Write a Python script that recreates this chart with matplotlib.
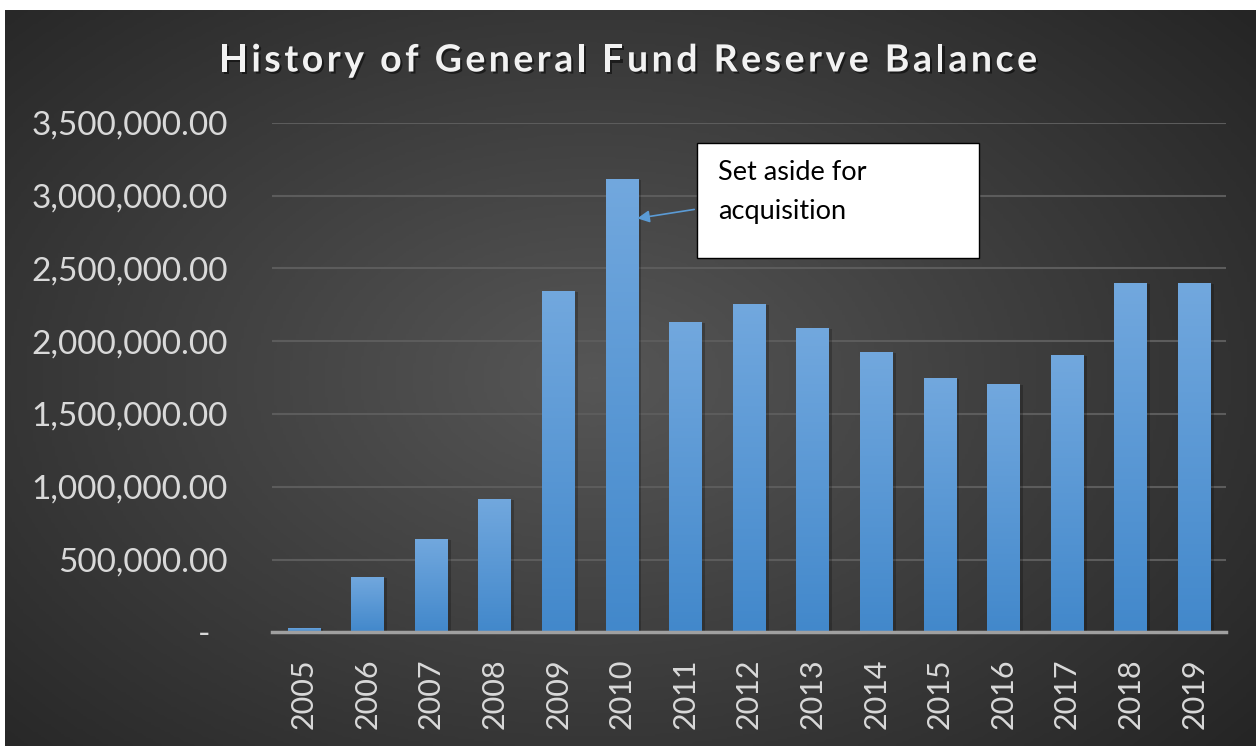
import numpy as np
import matplotlib
matplotlib.use("Agg")
import matplotlib.pyplot as plt
import matplotlib.patheffects as pe
from matplotlib.colors import LinearSegmentedColormap
from matplotlib.patches import Rectangle
from matplotlib.ticker import FuncFormatter

# Data
years = ["2005", "2006", "2007", "2008", "2009", "2010", "2011", "2012",
         "2013", "2014", "2015", "2016", "2017", "2018", "2019"]
balance = [30000, 380000, 641000, 915000, 2344000, 3113000, 2131000, 2255000,
           2090000, 1925000, 1747000, 1705000, 1905000, 2400000, 2400000]
y_ticks = [0, 500000, 1000000, 1500000, 2000000, 2500000, 3000000, 3500000]
title = "History of General Fund Reserve Balance"
note = "Set aside for\nacquisition"
note_year = "2010"

plt.rcParams["font.family"] = ["Lato", "DejaVu Sans"]

W, H = 1256, 746
fig = plt.figure(figsize=(W / 100, H / 100), dpi=100, facecolor="white")

# dark radial gradient background (Excel style)
bg = fig.add_axes([5 / W, 0, 1 - 5 / W, 1 - 10 / H], zorder=-5)
gx, gy = np.meshgrid(np.linspace(0, 1, 400), np.linspace(0, 1, 300))
dist = np.sqrt(((gx - 0.47) / 0.72) ** 2 + ((gy - 0.5) / 0.8) ** 2)
dist = np.clip(dist, 0, 1)
bg_cmap = LinearSegmentedColormap.from_list("bg", ["#565656", "#252525"])
bg.imshow(dist, cmap=bg_cmap, aspect="auto", extent=[0, 1, 0, 1], origin="lower")
bg.set_axis_off()

ax = fig.add_axes([272 / W, 1 - 632.3 / H, 954 / W, (632.3 - 122.7) / H])
ax.set_facecolor("none")

x = np.arange(len(years))
bars = ax.bar(x, balance, width=0.51, color="#5b9bd5", zorder=3,
              path_effects=[pe.SimplePatchShadow(offset=(2.5, -1), shadow_rgbFace="black", alpha=0.22),
                            pe.Normal()])

# vertical gradient inside each bar
bar_cmap = LinearSegmentedColormap.from_list("bar", ["#4288cb", "#72a8de"])
grad = np.linspace(0, 1, 256).reshape(-1, 1)
for b in bars:
    x0, w, h = b.get_x(), b.get_width(), b.get_height()
    im = ax.imshow(grad, cmap=bar_cmap, aspect="auto", origin="lower",
                   extent=[x0, x0 + w, 0, h], zorder=4)
    im.set_clip_path(b)

ax.set_xlim(-0.5, len(years) - 0.5)
ax.set_ylim(0, 3500000)
ax.set_xticks(x)
ax.set_xticklabels(years, rotation=90, fontsize=22, color="#d9d9d9")
ax.set_yticks(y_ticks)
ax.yaxis.set_major_formatter(FuncFormatter(lambda v, p: "-  " if v == 0 else f"{v:,.2f}"))
ax.tick_params(axis="y", labelsize=24, labelcolor="#d9d9d9", length=0, pad=31.7)
ax.tick_params(axis="x", length=0, pad=19)

ax.grid(axis="y", color="#5c5c5c", linewidth=1.5, zorder=0)
ax.set_axisbelow(True)
for s in ["top", "right", "left"]:
    ax.spines[s].set_visible(False)
ax.spines["bottom"].set_color("#a0a0a0")
ax.spines["bottom"].set_linewidth(2.5)
ax.spines["bottom"].set_zorder(5)

# title with letter spacing: place characters one by one
renderer = fig.canvas.get_renderer()
title_kw = dict(fontsize=27, fontweight="bold", color="#f2f2f2")
def text_width(s):
    t = fig.text(0, 0, s + "l", **title_kw)
    w1 = t.get_window_extent(renderer).width
    t.remove()
    t = fig.text(0, 0, "l", **title_kw)
    w2 = t.get_window_extent(renderer).width
    t.remove()
    return w1 - w2

spacing = 3.5
offsets = [text_width(title[:k]) + k * spacing for k in range(len(title))]
total = text_width(title) + (len(title) - 1) * spacing
start = 628 - total / 2
shadow = [pe.withSimplePatchShadow(offset=(1.5, -1.5), shadow_rgbFace="black", alpha=0.5)]
for ch, off in zip(title, offsets):
    if ch == " ":
        continue
    fig.text((start + off) / W, 1 - 71.5 / H, ch, ha="left", va="baseline",
             path_effects=shadow, **title_kw)

# callout box with arrow
box_l, box_t, box_r, box_b = 697, 143, 979, 257.7
fig.patches.append(Rectangle((box_l / W, 1 - box_b / H), (box_r - box_l) / W, (box_b - box_t) / H,
                             transform=fig.transFigure, facecolor="white", edgecolor="black",
                             linewidth=1, zorder=10))
fig.text(718 / W, 1 - 192 / H, note, ha="left", va="center", fontsize=19.5,
         color="black", linespacing=1.75, zorder=11)
i = years.index(note_year)
ax.annotate("", xy=(i + 0.2, 2840000), xycoords="data",
            xytext=(box_l / W, 1 - 209 / H), textcoords="figure fraction",
            arrowprops=dict(arrowstyle="-|>", color="#5b9bd5", lw=1.2, mutation_scale=18),
            zorder=12)

fig.savefig("out.png", dpi=100, facecolor="white")
